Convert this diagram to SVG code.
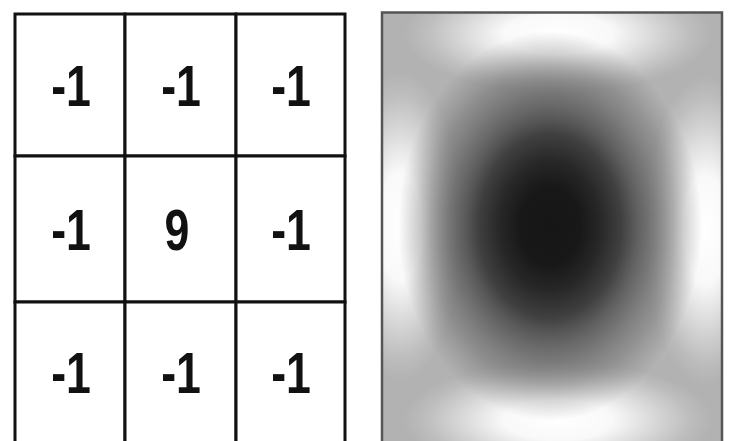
<svg xmlns="http://www.w3.org/2000/svg" width="729" height="441" viewBox="0 0 729 441">
<style>
.cell{fill:#ffffff;stroke:#111111;stroke-width:3}
.num{font-family:"Liberation Sans",Arial,sans-serif;font-size:58px;font-weight:bold;fill:#111111;text-anchor:middle}
</style>
<defs>
<clipPath id="frameClip"><rect x="382" y="12" width="341" height="429"/></clipPath>
<radialGradient id="gWhite">
<stop offset="0" stop-color="#ffffff" stop-opacity="1"/>
<stop offset="0.35" stop-color="#ffffff" stop-opacity="0.92"/>
<stop offset="0.65" stop-color="#ffffff" stop-opacity="0.45"/>
<stop offset="0.85" stop-color="#ffffff" stop-opacity="0.15"/>
<stop offset="1" stop-color="#ffffff" stop-opacity="0"/>
</radialGradient>
<radialGradient id="gInner">
<stop offset="0" stop-color="#ffffff" stop-opacity="1"/>
<stop offset="0.55" stop-color="#ffffff" stop-opacity="0.7"/>
<stop offset="0.8" stop-color="#ffffff" stop-opacity="0.2"/>
<stop offset="1" stop-color="#ffffff" stop-opacity="0"/>
</radialGradient>
<radialGradient id="gDark">
<stop offset="0" stop-color="#161616" stop-opacity="1"/>
<stop offset="0.2" stop-color="#181818" stop-opacity="1"/>
<stop offset="0.33" stop-color="#1a1a1a" stop-opacity="0.94"/>
<stop offset="0.47" stop-color="#1a1a1a" stop-opacity="0.82"/>
<stop offset="0.67" stop-color="#1a1a1a" stop-opacity="0.52"/>
<stop offset="0.87" stop-color="#1a1a1a" stop-opacity="0.2"/>
<stop offset="1" stop-color="#1a1a1a" stop-opacity="0"/>
</radialGradient>
</defs>
<rect x="0" y="0" width="729" height="441" fill="#ffffff"/>
<g id="kernel">
<g id="c00"><rect class="cell" x="15" y="14" width="110" height="142"/><text class="num" transform="translate(71,106) scale(0.77,1)">-1</text></g>
<g id="c01"><rect class="cell" x="125" y="14" width="111" height="142"/><text class="num" transform="translate(181,106) scale(0.77,1)">-1</text></g>
<g id="c02"><rect class="cell" x="236" y="14" width="109" height="142"/><text class="num" transform="translate(291,106) scale(0.77,1)">-1</text></g>
<g id="c10"><rect class="cell" x="15" y="156" width="110" height="146"/><text class="num" transform="translate(71,250) scale(0.77,1)">-1</text></g>
<g id="c11"><rect class="cell" x="125" y="156" width="111" height="146"/><text class="num" transform="translate(177,250) scale(0.77,1)">9</text></g>
<g id="c12"><rect class="cell" x="236" y="156" width="109" height="146"/><text class="num" transform="translate(291,250) scale(0.77,1)">-1</text></g>
<g id="c20"><rect class="cell" x="15" y="302" width="110" height="160"/><text class="num" transform="translate(71,393) scale(0.77,1)">-1</text></g>
<g id="c21"><rect class="cell" x="125" y="302" width="111" height="160"/><text class="num" transform="translate(181,393) scale(0.77,1)">-1</text></g>
<g id="c22"><rect class="cell" x="236" y="302" width="109" height="160"/><text class="num" transform="translate(291,393) scale(0.77,1)">-1</text></g>
</g>
<g id="response" clip-path="url(#frameClip)">
<rect x="382" y="12" width="341" height="429" fill="#b2b2b2"/>
<ellipse cx="552" cy="226" rx="155" ry="195" fill="url(#gInner)"/>
<ellipse cx="400" cy="226" rx="62" ry="155" fill="url(#gWhite)"/>
<ellipse cx="706" cy="230" rx="62" ry="155" fill="url(#gWhite)"/>
<ellipse cx="558" cy="34" rx="155" ry="58" fill="url(#gWhite)"/>
<ellipse cx="558" cy="420" rx="155" ry="58" fill="url(#gWhite)"/>
<ellipse cx="550" cy="226" rx="152" ry="195" fill="url(#gDark)"/>
</g>
<rect x="382" y="12.5" width="340" height="440" fill="none" stroke="#555555" stroke-width="2.5"/>
</svg>
